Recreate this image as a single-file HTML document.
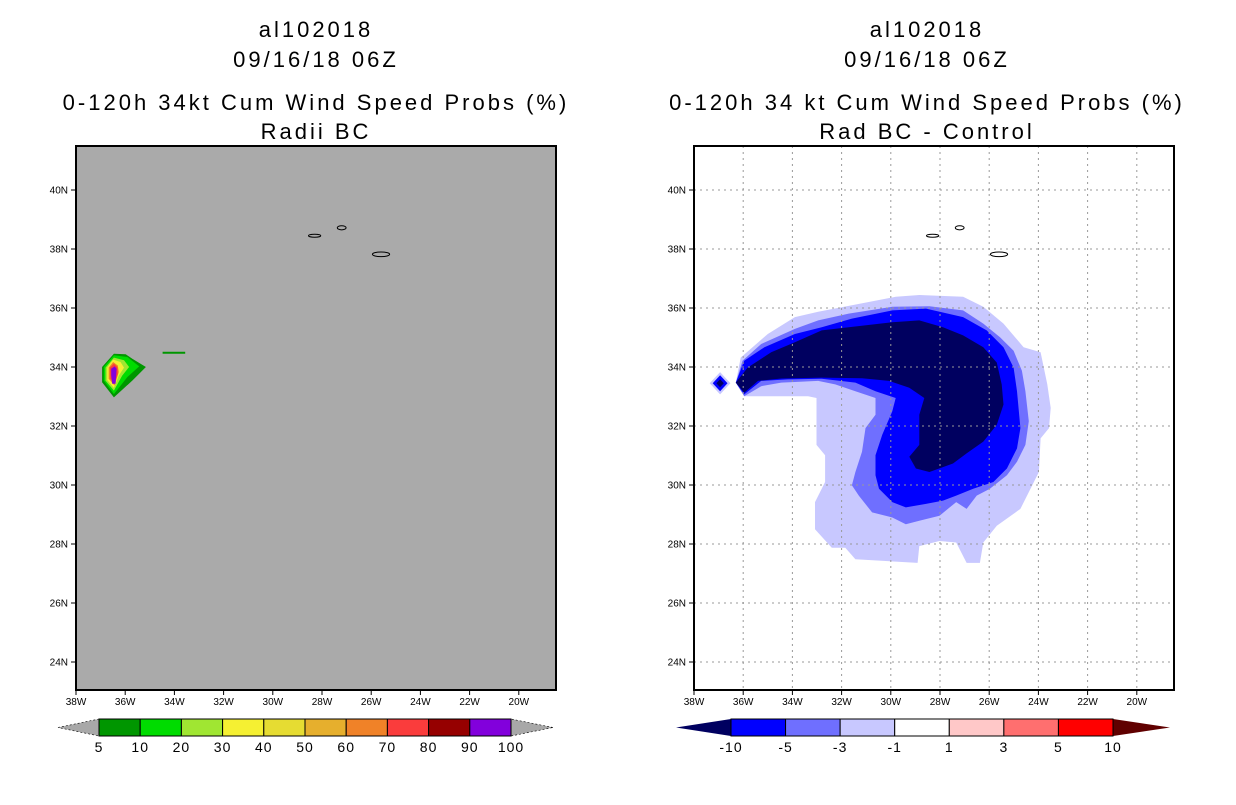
<!DOCTYPE html>
<html><head><meta charset="utf-8"><style>
body{margin:0;background:#fff;}
svg text{font-family:"Liberation Sans",sans-serif;}
</style></head><body>
<svg id="chart" width="1236" height="800" viewBox="0 0 1236 800" xmlns="http://www.w3.org/2000/svg">
<g font-size="22" letter-spacing="3" text-anchor="middle" fill="#000">
<text x="316" y="37">al102018</text><text x="316" y="67">09/16/18 06Z</text>
<text x="316" y="110">0-120h 34kt Cum Wind Speed Probs (%)</text><text x="316" y="139">Radii BC</text></g>
<g font-size="22" letter-spacing="3" text-anchor="middle" fill="#000">
<text x="927" y="37">al102018</text><text x="927" y="67">09/16/18 06Z</text>
<text x="927" y="110">0-120h 34 kt Cum Wind Speed Probs (%)</text><text x="927" y="139">Rad BC - Control</text></g>
<g id="left"></g>
<g id="right"></g>
<g id="cbars"></g>
</svg>
<script>
const latTicks=[40,38,36,34,32,30,28,26,24];
const lonTicks=[38,36,34,32,30,28,26,24,22,20];
const leftLevels=["#009600","#00dc00","#a0e632","#f5f032","#f08228","#fa3c3c","#8200dc"];
const leftPolys=[
[[36.94,34.0],[36.46,34.45],[35.98,34.43],[35.71,34.28],[35.16,34.0],[35.71,33.54],[36.46,32.97],[36.94,33.48]],
[[36.87,34.0],[36.46,34.40],[35.91,34.34],[35.43,34.02],[35.91,33.66],[36.46,33.08],[36.87,33.54]],
[[36.80,33.98],[36.46,34.32],[36.05,34.23],[35.84,34.0],[36.12,33.71],[36.46,33.20],[36.80,33.54]],
[[36.73,33.98],[36.49,34.25],[36.19,34.17],[36.05,33.98],[36.26,33.71],[36.46,33.29],[36.73,33.56]],
[[36.67,33.98],[36.49,34.17],[36.30,34.05],[36.26,33.83],[36.43,33.37],[36.67,33.60]],
[[36.62,33.98],[36.46,34.11],[36.32,34.0],[36.30,33.77],[36.43,33.43],[36.60,33.60]],
[[36.57,33.94],[36.43,34.02],[36.35,33.94],[36.39,33.43],[36.53,33.43],[36.57,33.71]]];
const leftLine=[[34.48,34.48],[33.56,34.48]];
const rightLevels=["#c8c8ff","#6f6fff","#0000ff","#000060"];
const rightPolys=[
[[36.30,33.47],[36.10,34.32],[35.00,35.12],[33.90,35.69],[32.95,35.87],[31.58,36.09],[29.80,36.38],[28.84,36.44],[27.06,36.38],[26.24,36.04],[25.42,35.47],[24.60,34.67],[23.91,34.50],[23.78,33.98],[23.64,33.41],[23.50,32.61],[23.57,31.93],[23.91,31.58],[23.98,30.44],[24.32,29.87],[24.73,29.19],[25.69,28.62],[26.24,28.05],[26.38,27.36],[26.92,27.36],[27.34,28.05],[28.02,28.10],[28.84,27.93],[28.91,27.36],[31.44,27.48],[31.85,27.87],[32.40,27.87],[33.08,28.50],[33.08,29.42],[32.67,30.10],[32.67,31.01],[33.02,31.36],[33.02,32.95],[33.36,33.01],[35.27,33.01],[35.96,33.01]],
[[36.30,33.47],[36.03,34.21],[35.27,34.78],[33.90,35.29],[32.95,35.58],[31.71,35.81],[29.94,36.04],[28.43,36.06],[27.06,35.92],[26.24,35.47],[25.56,35.01],[25.01,34.55],[24.67,33.87],[24.53,33.18],[24.39,32.16],[24.53,31.36],[24.87,30.79],[25.28,30.33],[25.97,29.87],[26.51,29.64],[26.92,29.19],[27.34,29.42],[28.02,28.96],[28.84,28.79],[29.39,28.67],[29.94,28.90],[30.76,29.07],[31.30,29.64],[31.58,29.99],[31.44,30.44],[31.17,31.13],[31.03,31.93],[30.62,32.38],[30.62,32.95],[31.44,33.18],[32.26,33.41],[32.95,33.53],[34.45,33.47],[35.27,33.35],[35.96,33.01]],
[[36.30,33.47],[35.96,34.21],[35.14,34.67],[33.90,35.12],[32.81,35.35],[31.58,35.64],[29.94,35.92],[28.57,35.98],[27.06,35.69],[26.10,35.24],[25.42,34.67],[25.01,33.98],[24.87,33.18],[24.73,31.93],[24.87,31.24],[25.28,30.56],[25.83,30.10],[26.65,29.87],[27.34,29.64],[27.88,29.47],[28.57,29.36],[29.39,29.24],[29.94,29.42],[30.48,29.87],[30.62,30.33],[30.62,31.01],[30.35,31.70],[29.94,32.50],[29.80,32.95],[30.62,33.18],[31.44,33.47],[32.81,33.60],[34.18,33.58],[35.27,33.53],[35.96,33.07]],
[[36.30,33.47],[35.82,33.98],[34.86,34.50],[33.90,34.84],[32.81,35.24],[31.71,35.35],[29.94,35.52],[28.84,35.58],[27.88,35.35],[27.06,35.07],[26.24,34.67],[25.69,34.15],[25.49,33.41],[25.42,32.73],[25.69,32.04],[26.24,31.47],[26.92,31.07],[27.47,30.73],[28.43,30.44],[28.98,30.56],[29.25,30.96],[28.84,31.36],[28.84,32.38],[28.64,32.95],[29.25,33.30],[30.07,33.53],[31.17,33.62],[32.81,33.64],[34.45,33.61],[35.40,33.53],[35.96,33.13]]];
const diamondCenter=[36.94,33.45];
const diamondSizes=[0.42,0.3,0.15];
const islands=[[28.3,38.45,0.25,0.05],[27.2,38.72,0.18,0.07],[25.6,37.82,0.35,0.08]];
const leftCbLabels=["5","10","20","30","40","50","60","70","80","90","100"];
const leftCbColors=["#009600","#00dc00","#a0e632","#f5f032","#e6dc32","#e6af2d","#f08228","#fa3c3c","#960000","#8200dc"];
const rightCbLabels=["-10","-5","-3","-1","1","3","5","10"];
const rightCbColors=["#0000ff","#6f6fff","#c8c8ff","#ffffff","#ffc8c8","#ff6f6f","#ff0000"];

const NS="http://www.w3.org/2000/svg";
function mk(p,tag,at){const e=document.createElementNS(NS,tag);for(const k in at)e.setAttribute(k,at[k]);p.appendChild(e);return e;}
const W=480;
function panel(gid,x0){
  const g=document.getElementById(gid);
  const X=l=>x0+(38-l)*24.6, Y=la=>190+(40-la)*29.5;
  return {g,X,Y,pts:a=>a.map(p=>X(p[0]).toFixed(1)+","+Y(p[1]).toFixed(1)).join(" ")};
}
function frame(P,x0,bg){
  const r=mk(P.g,"rect",{x:x0,y:146,width:W,height:544,fill:bg});
  
  
}
function axes(P,x0,grid){
  const g=P.g;
  if(grid){
    lonTicks.slice(1).forEach(l=>{const ln=mk(g,"line",{x1:P.X(l),x2:P.X(l),y1:146,y2:690,stroke:"#999","stroke-dasharray":"2,4"});});
    latTicks.forEach(l=>{const ln=mk(g,"line",{x1:x0,x2:x0+W,y1:P.Y(l),y2:P.Y(l),stroke:"#999","stroke-dasharray":"2,4"});});
  }
  latTicks.forEach(l=>{mk(g,"line",{x1:x0-5,x2:x0,y1:P.Y(l),y2:P.Y(l),stroke:"#000"});
    const t=mk(g,"text",{x:x0-8,y:P.Y(l)+3.5,"font-size":"10","text-anchor":"end"});t.textContent=l+"N";
    });
  lonTicks.forEach(l=>{mk(g,"line",{x1:P.X(l),x2:P.X(l),y1:690,y2:695,stroke:"#000"});
    const t=mk(g,"text",{x:P.X(l),y:705,"font-size":"10","text-anchor":"middle"});t.textContent=l+"W";
    });
  islands.forEach(s=>{const e=mk(g,"ellipse",{cx:P.X(s[0]),cy:P.Y(s[1]),rx:s[2]*24.6,ry:s[3]*29.5,fill:"none",stroke:"#000","stroke-width":"1"});
    });
  const b=mk(g,"rect",{x:x0,y:146,width:W,height:544,fill:"none",stroke:"#000","stroke-width":"2"});
  
}
const L=panel("left",76);
frame(L,76,"#aaaaaa");
leftPolys.forEach((p,i)=>{const e=mk(L.g,"polygon",{points:L.pts(p),fill:leftLevels[i]});
  });
const gl=mk(L.g,"polyline",{points:L.pts(leftLine),stroke:"#009600","stroke-width":"2",fill:"none"});

axes(L,76,false);
const R=panel("right",694);
frame(R,694,"none");
rightPolys.forEach((p,i)=>{const e=mk(R.g,"polygon",{points:R.pts(p),fill:rightLevels[i]});
  });
diamondSizes.forEach((s,i)=>{const c=diamondCenter;
  const e=mk(R.g,"polygon",{points:R.pts([[c[0]+s,c[1]],[c[0],c[1]+s*0.9],[c[0]-s,c[1]],[c[0],c[1]-s*0.9]]),fill:["#c8c8ff","#0000ff","#000060"][i]});
  });
axes(R,694,true);
const cb=document.getElementById("cbars");
function cbar(x0,x1,tipL,tipR,cols,labels,lc,rc,nm){
  const g=mk(cb,"g",{});
  
  
  const w=(x1-x0)/cols.length;
  mk(g,"polygon",{points:`${tipL},727.5 ${x0},719 ${x0},736`,fill:lc,stroke:lc==="#a8a8a8"?"#000":"none","stroke-dasharray":"2,2","stroke-width":"0.6"});
  mk(g,"polygon",{points:`${tipR},727.5 ${x1},719 ${x1},736`,fill:rc,stroke:rc==="#a8a8a8"?"#000":"none","stroke-dasharray":"2,2","stroke-width":"0.6"});
  cols.forEach((c,i)=>{const r=mk(g,"rect",{x:x0+i*w,y:719,width:w,height:17,fill:c,stroke:"#000","stroke-width":"1"});
    });
  labels.forEach((s,i)=>{const t=mk(g,"text",{x:x0+i*w,y:752,"font-size":"14","letter-spacing":"1","text-anchor":"middle"});t.textContent=s;
    });
}
cbar(99,511,58,553,leftCbColors,leftCbLabels,"#a8a8a8","#a8a8a8","left-colorbar");
cbar(731,1113,676,1170,rightCbColors,rightCbLabels,"#000060","#600000","right-colorbar");
</script>
</body></html>
